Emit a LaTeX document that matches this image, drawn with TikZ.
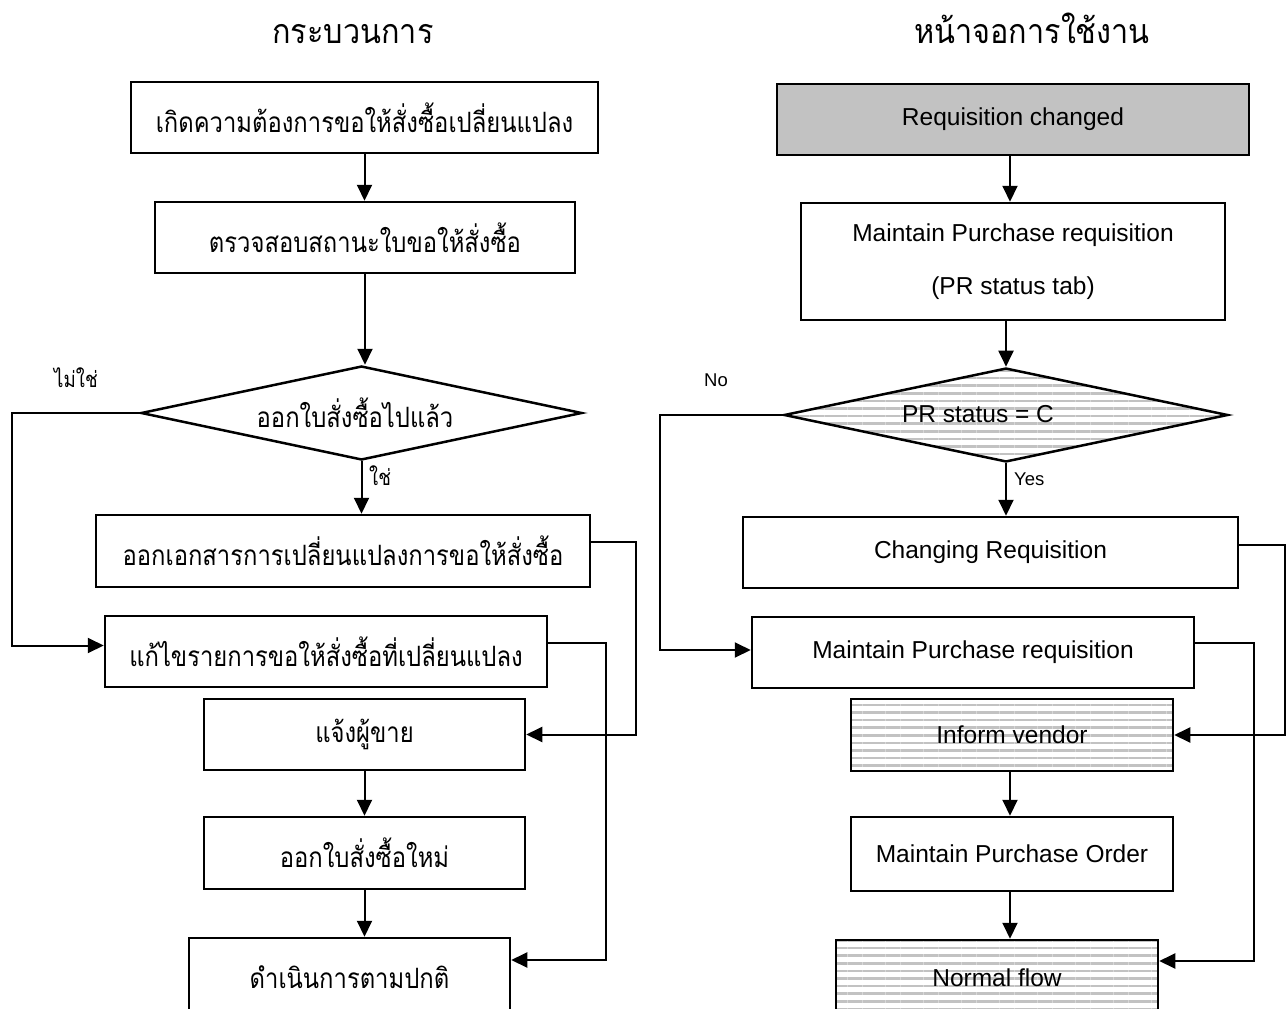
\documentclass[tikz,border=0pt]{standalone}
\usepackage{fontspec}
\setmainfont{Liberation Sans}
\newfontfamily\thai[Script=Thai,FakeStretch=0.85]{Loma}
\newfontfamily\thaititle[Script=Thai,FakeStretch=0.9]{Loma}
\usetikzlibrary{shapes.geometric,arrows.meta,patterns.meta}
\begin{document}
\begin{tikzpicture}[x=1pt,y=-1pt,
  box/.style={draw,line width=2.5pt,rectangle,inner sep=0pt,align=center},
  dia/.style={draw,line width=2.5pt,diamond,inner sep=0pt},
  thaitxt/.style={font=\thai\fontsize{28}{34}\selectfont},
  engtxt/.style={font=\fontsize{24.5}{29}\selectfont},
  lab/.style={inner sep=0pt},
  arr/.style={line width=2pt,-{Triangle[length=16pt,width=15pt]}},
  shade/.style={fill=black!24},
  dots/.style={pattern={Lines[distance=7.6pt,line width=2.6pt]},pattern color=black!24},
]
\clip (0,0) rectangle (1286,1009);
\fill[white] (0,0) rectangle (1286,1009);

% ---------- titles
\node[lab,anchor=base,font=\thaititle\fontsize{34}{40}\selectfont] (T1) at (353,43) {กระบวนการ};
\node[lab,anchor=base,font=\thaititle\fontsize{34}{40}\selectfont] (T2) at (1032,43) {หน้าจอการใช้งาน};

% ---------- left column
\node[box,thaitxt,minimum width=467pt,minimum height=71pt] (L1) at (364.5,117.5) {เกิดความต้องการขอให้สั่งซื้อเปลี่ยนแปลง};
\node[box,thaitxt,minimum width=420pt,minimum height=71pt] (L2) at (365,237.5) {ตรวจสอบสถานะใบขอให้สั่งซื้อ};
\node[dia,minimum width=441pt,minimum height=94pt] (Ld) at (361.5,413) {};
\node[lab,thaitxt] (Ldt) at (355,413) {ออกใบสั่งซื้อไปแล้ว};
\node[box,thaitxt,minimum width=494pt,minimum height=72pt] (L3) at (343,551) {ออกเอกสารการเปลี่ยนแปลงการขอให้สั่งซื้อ};
\node[box,thaitxt,minimum width=442pt,minimum height=71pt] (L4) at (326,651.5) {แก้ไขรายการขอให้สั่งซื้อที่เปลี่ยนแปลง};
\node[box,thaitxt,minimum width=321pt,minimum height=71pt] (L5) at (364.5,734.5) {แจ้งผู้ขาย};
\node[box,thaitxt,minimum width=321pt,minimum height=72pt] (L6) at (364.5,853) {ออกใบสั่งซื้อใหม่};
\node[box,thaitxt,minimum width=321pt,minimum height=78pt] (L7) at (349.5,977) {ดำเนินการตามปกติ};

\node[lab,font=\thai\fontsize{22}{26}\selectfont] (Lno) at (76,378) {ไม่ใช่};
\node[lab,font=\thai\fontsize{22}{26}\selectfont,anchor=west] (Lyes) at (369,476) {ใช่};

\draw[arr] (L1.south) -- (L1.south |- L2.north);
\draw[arr] (L2.south) -- (L2.south |- Ld.north);
\draw[arr] (Ld.south) -- (Ld.south |- L3.north);
\draw[arr] (L5.south) -- (L5.south |- L6.north);
\draw[arr] (L6.south) -- (L6.south |- L7.north);
\coordinate (Lnoc) at (12,413);
\draw[arr] (Ld.west) -- (Lnoc) |- ([yshift=6pt]L4.west);
\coordinate (L3r) at (636,542);
\draw[arr] ([yshift=9pt]L3.east) -- (L3r) |- (L5.east);
\coordinate (L4r) at (606,643);
\draw[arr] ([yshift=8.5pt]L4.east) -- (L4r) |- ([yshift=17pt]L7.east);

% ---------- right column
\node[box,engtxt,shade,minimum width=472pt,minimum height=71pt] (R1) at (1013,119.5) {Requisition changed};
\node[box,font=\fontsize{24.5}{53}\selectfont,minimum width=424pt,minimum height=117pt] (R2) at (1013,261.5) {Maintain Purchase requisition\\(PR status tab)};
\node[dia,dots,minimum width=444pt,minimum height=94pt] (Rd) at (1006,415) {};
\node[lab,engtxt] (Rdt) at (978,414) {PR status = C};
\node[box,engtxt,minimum width=495pt,minimum height=71pt] (R3) at (990.5,552.5) {Changing Requisition};
\node[box,engtxt,minimum width=442pt,minimum height=71pt] (R4) at (973,652.5) {Maintain Purchase requisition};
\node[box,engtxt,dots,minimum width=322pt,minimum height=72pt] (R5) at (1012,735) {Inform vendor};
\node[box,engtxt,minimum width=322pt,minimum height=74pt] (R6) at (1012,854) {Maintain Purchase Order};
\node[box,engtxt,dots,minimum width=322pt,minimum height=76pt] (R7) at (997,978) {Normal flow};

\node[lab,font=\fontsize{18.5}{22}\selectfont] (Rno) at (716,380) {No};
\node[lab,font=\fontsize{18.5}{22}\selectfont,anchor=west] (Ryes) at (1014,479) {Yes};

\draw[arr] (R1.south -| 1010,0) -- (1010,0 |- R2.north);
\draw[arr] (R2.south -| Rd.north) -- (Rd.north);
\draw[arr] (Rd.south) -- (Rd.south |- R3.north);
\draw[arr] (R5.south -| 1010,0) -- (1010,0 |- R6.north);
\draw[arr] (R6.south -| 1010,0) -- (1010,0 |- R7.north);
\coordinate (Rnoc) at (660,415);
\draw[arr] (Rd.west) -- (Rnoc) |- ([yshift=2.5pt]R4.west);
\coordinate (R3r) at (1285,545);
\draw[arr] ([yshift=7.5pt]R3.east) -- (R3r) |- (R5.east);
\coordinate (R4r) at (1254,643);
\draw[arr] ([yshift=9.5pt]R4.east) -- (R4r) |- ([yshift=17pt]R7.east);
\end{tikzpicture}
\end{document}
